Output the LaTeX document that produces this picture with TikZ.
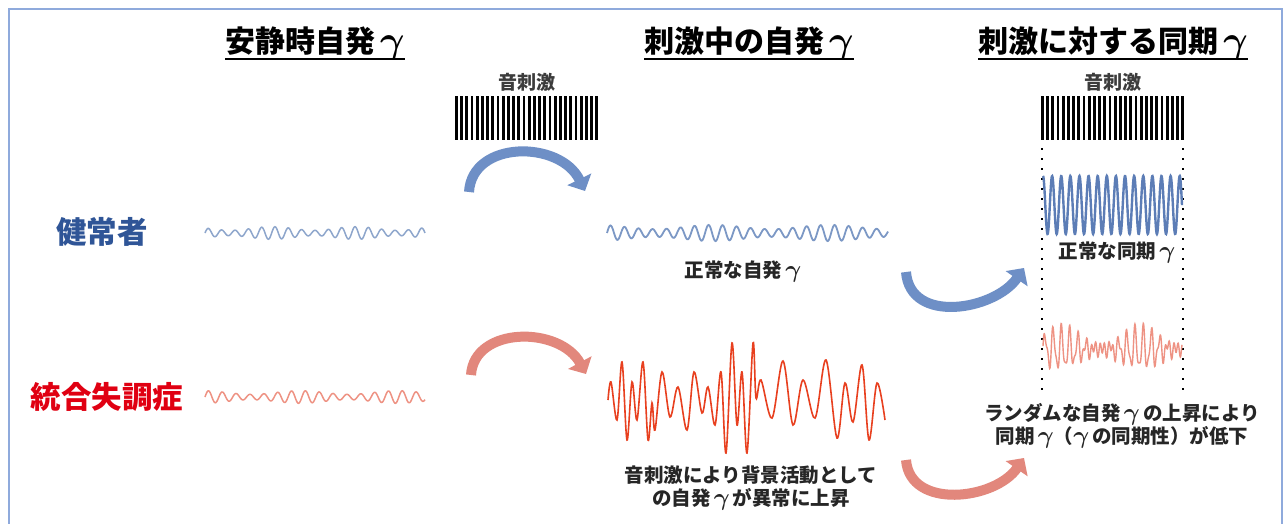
\RequirePackage{fix-cm}
\documentclass[tikz,border=0pt]{standalone}
\usepackage{amsmath}
\usepackage{graphicx}
\usepackage{fontspec}
\newfontfamily\cjk{Noto Sans CJK JP}
\usetikzlibrary{arrows.meta}
\newcommand\ggam{\scalebox{1.25}{$\boldsymbol{\gamma}$}}
\definecolor{frameblue}{HTML}{8FAADC}
\definecolor{hblue}{HTML}{2F5597}
\definecolor{sred}{HTML}{E00012}
\definecolor{arrblue}{HTML}{6E8FC6}
\definecolor{arrred}{HTML}{E2877C}
\definecolor{wblue}{HTML}{8EA6CC}
\definecolor{midblue}{HTML}{7C98C5}
\definecolor{wred}{HTML}{EE9283}
\definecolor{bigred}{HTML}{E8401F}
\definecolor{syncblue}{HTML}{5C7DB6}
\definecolor{txt}{HTML}{262626}
\tikzset{
  title/.style={font=\cjk\bfseries\fontsize{30}{33}\selectfont, inner sep=0pt, anchor=base},
  uline/.style={line width=1.8pt},
  group/.style={font=\cjk\bfseries\fontsize{30.5}{33}\selectfont, inner sep=0pt},
  stim/.style={font=\cjk\bfseries\fontsize{19}{22}\selectfont, text=txt!90!white, inner sep=0pt},
  lbl/.style={font=\cjk\bfseries\fontsize{19.5}{23}\selectfont, text=txt, align=center, inner sep=0pt},
  bar/.style={fill=black},
  dots/.style={line width=2.2pt, dash pattern=on 2.2pt off 7.8pt},
  curvarrow/.style={line width=10pt, -{Triangle[length=13pt,width=26pt]}},
}
\begin{document}
\begin{tikzpicture}[x=1pt,y=-1pt]
\useasboundingbox (0,0) rectangle (1287,524);
\fill[white] (0,0) rectangle (1287,524);
\draw[frameblue, line width=1.5pt] (9,540) -- (9,9) -- (1282,9) -- (1282,540);

% titles
\node[title] (t1) at (315,52.5) {安静時自発\,\ggam};
\node[title] (t2) at (749,52.5) {刺激中の自発\,\ggam};
\node[title] (t3) at (1113,52.5) {刺激に対する同期\,\ggam};
\foreach \t in {t1,t2,t3}
  \draw[uline] ([yshift=-6.5pt]\t.base west) -- ([yshift=-6.5pt]\t.base east);

% group labels
\node[group, text=hblue] (h) at (102,232) {健常者};
\node[group, text=sred] (s) at (107,397) {統合失調症};

% stimulus labels and bars
\node[stim] (st1) at (527,82) {音刺激};
\node[stim] (st2) at (1113,82) {音刺激};
\foreach \i in {0,...,27} {
  \fill[bar] (455+\i*5.2,96) rectangle ++(2.7,44);
  \fill[bar] (1041+\i*5.2,96) rectangle ++(2.7,44);
}

% resting waves
\draw[wblue, line width=1.5pt] plot[variable=\x, domain=205:425, samples=300]
  (\x, {233 - 4.5*(1+0.4*sin(\x*4.3))*sin((\x-205)*27)});
\draw[wred, line width=1.5pt] plot[variable=\x, domain=205:425, samples=300]
  (\x, {397 - 4.5*(1+0.4*sin(\x*3.7+60))*sin((\x-205)*26)});

% stimulus-period waves
\draw[midblue, line width=1.8pt] plot[variable=\x, domain=607:888, samples=400]
  (\x, {233 - 6*(1+0.35*sin(\x*3.1+40))*sin((\x-607)*25.7)});
\draw[bigred, line width=1.6pt] plot[smooth, tension=0.55] coordinates {
 (608,400) (611,382) (617,420) (622,362) (627,440) (632,382) (637,420) (643,362)
 (648,440) (652,403) (655,430) (662,372) (670,417) (678,387) (687,430) (694,372)
 (702,413) (708,387) (715,425) (721,372) (726,453) (732,343) (737,425) (742,372)
 (747,453) (753,343) (756,398) (761,380) (772,418) (783,361) (793,425) (803,380)
 (815,418) (826,360) (837,438) (845,383) (853,422) (862,365) (869,440) (877,383)
 (885,420)};

% dotted guides
\coordinate (dl1) at (1042,148); \coordinate (dl2) at (1042,393);
\coordinate (dr1) at (1183,148); \coordinate (dr2) at (1183,393);
\draw[dots] (dl1) -- (dl2);
\draw[dots] (dr1) -- (dr2);

% synchronized waves
\draw[syncblue, line width=2.4pt] plot[variable=\x, domain=1043:1182, samples=500]
  (\x, {205 - 29*cos((\x-1043)*39.5)});
\draw[wred, line width=1.4pt] plot[variable=\x, domain=1043:1182, samples=500]
  (\x, {349 - (11+9*sin((\x-1043)*4.5+10))*sin((\x-1043)*44) - 6*sin((\x-1043)*83+30)});

% labels
\node[lbl] (n1) at (743,272) {正常な自発\,\ggam};
\node[lbl] (n2) at (751,488) {音刺激により背景活動として\\の自発\,\ggam\,が異常に上昇};
\node[lbl] (n3) at (1117,253) {正常な同期\,\ggam};
\node[lbl] (n4) at (1122,426) {ランダムな自発\,\ggam\,の上昇により\\同期\,\ggam（\ggam\,の同期性）が低下};

% curved arrows
\coordinate (a1s) at (469,192); \coordinate (a1e) at (585,191);
\coordinate (a2s) at (471,375); \coordinate (a2e) at (586,374);
\coordinate (a3s) at (906,272); \coordinate (a3e) at (1024,268);
\coordinate (a4s) at (906,460); \coordinate (a4e) at (1024,458);
\draw[curvarrow, arrblue] (a1s) .. controls (472,140) and (560,140) .. (a1e);
\draw[curvarrow, arrred] (a2s) .. controls (474,326) and (560,326) .. (a2e);
\draw[curvarrow, arrblue] (a3s) .. controls (910,325) and (995,310) .. (a3e);
\draw[curvarrow, arrred] (a4s) .. controls (910,510) and (995,500) .. (a4e);
\end{tikzpicture}
\end{document}
